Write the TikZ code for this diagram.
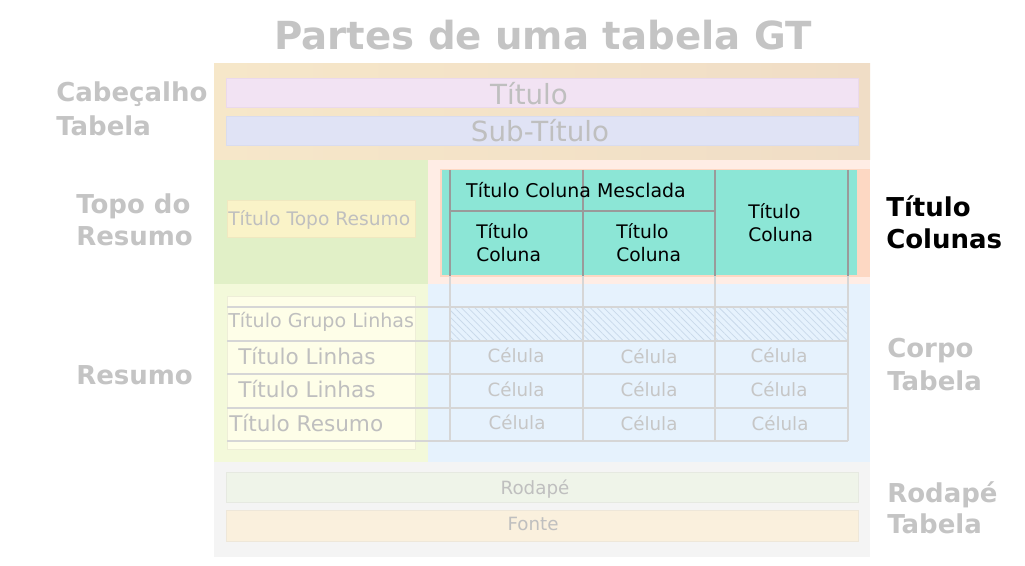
\documentclass[tikz,border=0pt]{standalone}
\usepackage{fontspec}
\setmainfont{DejaVu Sans}
\usetikzlibrary{patterns.meta}
\definecolor{hdrtanl}{HTML}{F6E7C9}
\definecolor{hdrtanr}{HTML}{F0DDC6}
\definecolor{titlebox}{HTML}{F2E3F3}
\definecolor{titleboxb}{HTML}{EAD9EC}
\definecolor{subbox}{HTML}{E0E3F5}
\definecolor{subboxb}{HTML}{D9DCEE}
\definecolor{topogreen}{HTML}{E1F0C7}
\definecolor{topobox}{HTML}{FAF3C8}
\definecolor{topoboxb}{HTML}{F0E8C0}
\definecolor{peachpale}{HTML}{FFEDE5}
\definecolor{peachstrong}{HTML}{FDD8C3}
\definecolor{tealc}{HTML}{8CE6D6}
\definecolor{bodyblue}{HTML}{E6F2FD}
\definecolor{stubgreen}{HTML}{F3F9DA}
\definecolor{stubbox}{HTML}{FEFEE8}
\definecolor{stubboxb}{HTML}{EEEED8}
\definecolor{footgray}{HTML}{F4F4F4}
\definecolor{rodbox}{HTML}{EFF4E9}
\definecolor{rodboxb}{HTML}{E6E9E1}
\definecolor{fonbox}{HTML}{FAF0DD}
\definecolor{fonboxb}{HTML}{EEE7D9}
\definecolor{labgray}{HTML}{C4C4C4}
\definecolor{txtgray}{HTML}{BFBFBF}
\definecolor{cellgray}{HTML}{C6C6C6}
\definecolor{gridc}{HTML}{D6D6D6}
\definecolor{hdrline}{HTML}{9A9A9A}
\definecolor{hatchc}{HTML}{C9D9EA}
\newcommand{\tbtwo}[2]{\vtop{\hbox{#1}\hbox{#2}}}
\begin{document}
\begin{tikzpicture}[x=0.75pt,y=-0.75pt,
  lab/.style={anchor=base west,inner sep=0,text=labgray,font=\fontsize{19.5}{24}\selectfont\bfseries},
  boxtxt/.style={anchor=base,inner sep=0,text=txtgray},
  celltxt/.style={anchor=base,inner sep=0,text=cellgray,font=\fontsize{13.7}{16}\selectfont},
  stubtxt/.style={anchor=base west,inner sep=0,text=txtgray},
  coltxt/.style={anchor=base west,inner sep=0,text=black,font=\fontsize{14}{17.25}\selectfont},
  gridl/.style={draw=gridc,line width=1.5pt},
  hdrl/.style={draw=hdrline,line width=1.5pt},
  pbox/.style={line width=0.75pt}]
\useasboundingbox (0,0) rectangle (1025,566);
\fill[white] (0,0) rectangle (1025,566);

% title
\node[anchor=base,inner sep=0,text=labgray,font=\fontsize{29}{35}\selectfont\bfseries] (title) at (543,50) {Partes de uma tabela GT};

% header region
\shade[left color=hdrtanl,right color=hdrtanr] (214,64) rectangle (870,160);
\filldraw[pbox,fill=titlebox,draw=titleboxb] (226,79) rectangle (858,108);
\filldraw[pbox,fill=subbox,draw=subboxb] (226,117) rectangle (858,146);
\node[boxtxt,font=\fontsize{20.8}{25}\selectfont] (ttitle) at (529,105) {Título};
\node[boxtxt,font=\fontsize{20.8}{25}\selectfont] (tsub) at (540,142) {Sub-Título};

% stubhead region
\fill[topogreen] (214,160) rectangle (428,284);
\filldraw[pbox,fill=topobox,draw=topoboxb] (227,201) rectangle (415,238);
\node[stubtxt,font=\fontsize{14}{16}\selectfont] (ttopo) at (228,226) {Título Topo Resumo};

% column labels region
\fill[peachpale] (428,160) rectangle (870,284);
\fill[peachstrong] (440,169) rectangle (870,277);
\fill[tealc] (442,170) rectangle (857,275);

% stub region and body
\fill[stubgreen] (214,284) rectangle (428,462);
\fill[bodyblue] (428,284) rectangle (870,462);
\filldraw[pbox,fill=stubbox,draw=stubboxb] (227,297) rectangle (415,450);
\fill[pattern={Lines[angle=-45,distance=3.6pt,line width=0.55pt]},pattern color=hatchc] (450,307) rectangle (848,341);

% footer
\fill[footgray] (214,462) rectangle (870,557);
\filldraw[pbox,fill=rodbox,draw=rodboxb] (226,473) rectangle (858,503);
\filldraw[pbox,fill=fonbox,draw=fonboxb] (226,511) rectangle (858,541);
\node[boxtxt,font=\fontsize{13.7}{16}\selectfont] (trod) at (535,494) {Rodapé};
\node[boxtxt,font=\fontsize{13.7}{16}\selectfont] (tfon) at (533,530) {Fonte};

% grid lines in body
\foreach \yy in {307,341,374,408,441} \draw[gridl] (227,\yy) -- (848,\yy);
\foreach \xx in {450,583,715,848} \draw[gridl] (\xx,275) -- (\xx,441);

% header lines
\foreach \xx in {450,583,715,848} \draw[hdrl] (\xx,170) -- (\xx,276);
\draw[hdrl] (450,211) -- (715,211);

% column header texts
\node[anchor=base,inner sep=0,text=black,font=\fontsize{14.2}{17}\selectfont] (tspan) at (576,198) {Título Coluna Mesclada};
\node[coltxt] (c1) at (476,239) {\tbtwo{Título}{Coluna}};
\node[coltxt] (c2) at (616,239) {\tbtwo{Título}{Coluna}};
\node[coltxt] (c3) at (748,219) {\tbtwo{Título}{Coluna}};

% stub texts
\node[stubtxt,font=\fontsize{14.3}{17}\selectfont] (tgrp) at (228,328) {Título Grupo Linhas};
\node[stubtxt,font=\fontsize{16.2}{19}\selectfont] (tr1) at (238,365) {Título Linhas};
\node[stubtxt,font=\fontsize{16.2}{19}\selectfont] (tr2) at (238,398) {Título Linhas};
\node[stubtxt,font=\fontsize{16.2}{19}\selectfont] (tsum) at (229,432) {Título Resumo};

% cells
\node[celltxt] (a1) at (516,363) {Célula};
\node[celltxt] (b1) at (649,364) {Célula};
\node[celltxt] (d1) at (779,363) {Célula};
\node[celltxt] (a2) at (516,397) {Célula};
\node[celltxt] (b2) at (649,397) {Célula};
\node[celltxt] (d2) at (779,397) {Célula};
\node[celltxt] (a3) at (517,430) {Célula};
\node[celltxt] (b3) at (649,431) {Célula};
\node[celltxt] (d3) at (780,431) {Célula};

% side labels
\node[lab,font=\fontsize{19.5}{25.5}\selectfont\bfseries] (lhdr) at (56,102) {\tbtwo{Cabeçalho}{Tabela}};
\node[lab] (ltopo) at (76,214) {\tbtwo{Topo do}{Resumo}};
\node[lab] (lres) at (76,385) {Resumo};
\node[lab,text=black] (lcol) at (886,217) {\tbtwo{Título}{Colunas}};
\node[lab,font=\fontsize{19.5}{24.75}\selectfont\bfseries] (lbody) at (887,358) {\tbtwo{Corpo}{Tabela}};
\node[lab,font=\fontsize{19.5}{23.25}\selectfont\bfseries] (lfoot) at (887,503) {\tbtwo{Rodapé}{Tabela}};
\end{tikzpicture}
\end{document}
